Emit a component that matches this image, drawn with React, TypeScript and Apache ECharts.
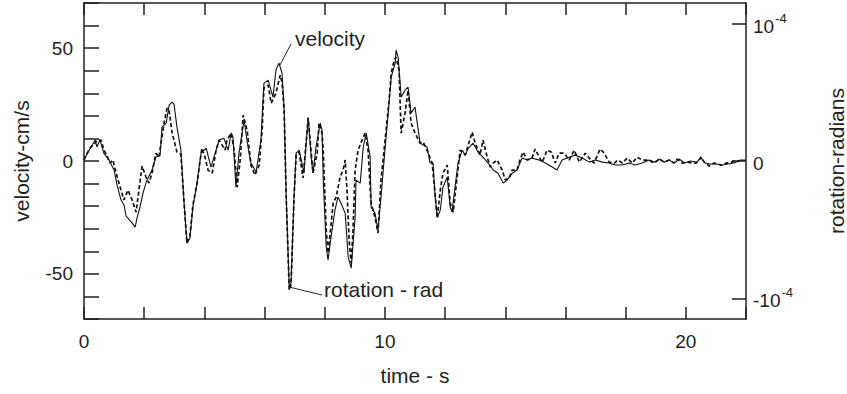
import React, { useEffect, useRef } from "react";
import * as echarts from "echarts";

// time axis (s) and velocity (cm/s) of the solid trace
const velocityTime = [
  0.0, 0.17, 0.37, 0.43, 0.53, 0.66, 0.83, 1.0, 1.1, 1.23, 1.33, 1.4, 1.46, 1.6, 1.7, 1.76, 1.86, 1.96, 2.09, 2.26,
  2.39, 2.53, 2.59, 2.73, 2.83, 2.93, 2.99, 3.09, 3.22, 3.32, 3.42, 3.52, 3.62, 3.76, 3.89, 4.06, 4.22, 4.39, 4.49,
  4.65, 4.79, 4.89, 4.95, 5.05, 5.15, 5.32, 5.45, 5.55, 5.72, 5.88, 5.98, 6.12, 6.28, 6.38, 6.48, 6.58, 6.65, 6.72,
  6.82, 6.88, 6.98, 7.05, 7.15, 7.31, 7.45, 7.55, 7.61, 7.71, 7.85, 7.91, 7.95, 8.05, 8.11, 8.21, 8.34, 8.44, 8.54,
  8.68, 8.78, 8.88, 9.01, 9.04, 9.18, 9.28, 9.38, 9.51, 9.54, 9.67, 9.77, 9.87, 10.01, 10.11, 10.21, 10.34, 10.37,
  10.44, 10.54, 10.67, 10.77, 10.87, 11.0, 11.17, 11.4, 11.5, 11.6, 11.67, 11.74, 11.84, 11.93, 12.07, 12.17, 12.23,
  12.33, 12.43, 12.57, 12.67, 12.77, 12.93, 13.1, 13.26, 13.43, 13.6, 13.76, 13.93, 14.06, 14.23, 14.39, 14.56,
  14.73, 14.89, 15.13, 15.33, 15.56, 15.72, 15.89, 16.12, 16.32, 16.56, 16.79, 16.99, 17.22, 17.45, 17.65, 17.89,
  18.12, 18.32, 18.55, 18.78, 18.95, 19.12, 19.28, 19.45, 19.61, 19.78, 19.95, 20.15, 20.35, 20.51, 20.64, 20.81,
  21.01, 21.21, 21.41, 21.61, 21.81, 21.97,
];
const velocityValues = [
  0.4, 4.8, 9.3, 6.2, 9.3, 3.5, 0.4, -4.0, -10.7, -17.3, -19.5, -24.4, -25.3, -27.5, -29.3, -25.3, -20.4, -14.2, -8.5,
  -4.0, 1.7, 2.6, 15.0, 16.8, 24.8, 26.1, 25.2, 15.0, 4.8, -17.3, -36.4, -34.2, -20.4, -9.3, 3.5, 5.7, -2.7, 4.8, 9.3,
  10.1, 4.8, 12.4, 10.6, -11.6, 3.5, 18.1, 6.2, -0.9, -4.9, 9.3, 34.5, 35.8, 28.3, 40.3, 43.4, 39.0, 23.9, -16.0,
  -55.8, -54.0, -16.0, 3.5, 4.8, -5.3, 19.4, 1.7, -5.3, 6.2, 16.8, 13.7, -8.5, -38.1, -43.8, -33.7, -21.8, -16.0,
  -18.7, -23.1, -42.6, -47.5, -24.9, -8.5, -9.8, 6.2, 12.4, 1.7, -20.4, -23.1, -30.6, -16.0, 6.2, 21.2, 37.2, 43.4,
  49.1, 46.0, 28.3, 31.4, 32.7, 21.2, 23.9, 7.9, 6.2, -0.9, -0.9, -16.0, -24.9, -21.8, -11.6, -7.1, -20.4, -22.6,
  -11.6, -0.9, 4.8, 2.6, 5.7, 7.9, 3.9, 1.7, -0.9, -4.0, -5.4, -9.8, -8.5, -5.4, -4.0, 1.3, 0.4, 1.3, 0.4, -0.9, -2.7,
  -4.0, 0.4, 1.7, 2.6, 1.3, -0.5, 0.4, -0.5, -0.9, -1.8, -1.8, -0.9, -1.8, -0.9, 0.4, -0.5, 0.9, -0.5, 0.4, -0.9, 0.9,
  -0.9, 0.0, -0.5, 1.3, -0.9, -1.3, -1.3, -1.8, -1.3, -0.9, 0.4, 0.4,
];

// time axis (s) and rotation (radians) of the dashed trace
const rotationTime = [
  0.0, 0.07, 0.2, 0.37, 0.43, 0.57, 0.66, 0.76, 0.86, 0.96, 1.06, 1.23, 1.33, 1.46, 1.6, 1.73, 1.93, 2.06, 2.16, 2.26,
  2.39, 2.49, 2.66, 2.76, 2.83, 2.93, 3.09, 3.22, 3.32, 3.42, 3.52, 3.62, 3.76, 3.86, 3.92, 4.02, 4.12, 4.26, 4.39,
  4.49, 4.59, 4.69, 4.75, 4.89, 4.99, 5.09, 5.19, 5.29, 5.42, 5.55, 5.68, 5.82, 5.92, 5.98, 6.12, 6.22, 6.38, 6.52,
  6.58, 6.65, 6.72, 6.82, 6.88, 6.98, 7.05, 7.15, 7.28, 7.45, 7.61, 7.75, 7.81, 7.91, 7.95, 8.05, 8.11, 8.21, 8.28,
  8.38, 8.51, 8.61, 8.68, 8.74, 8.81, 8.88, 8.94, 9.01, 9.11, 9.24, 9.34, 9.44, 9.54, 9.67, 9.77, 9.87, 10.04, 10.14,
  10.21, 10.31, 10.37, 10.47, 10.54, 10.67, 10.77, 10.87, 11.0, 11.17, 11.27, 11.4, 11.57, 11.67, 11.74, 11.84, 11.93,
  12.07, 12.17, 12.27, 12.37, 12.5, 12.67, 12.77, 12.9, 13.0, 13.16, 13.26, 13.4, 13.5, 13.6, 13.73, 13.9, 14.0,
  14.13, 14.23, 14.39, 14.49, 14.59, 14.73, 14.89, 14.99, 15.13, 15.23, 15.39, 15.53, 15.66, 15.79, 15.96, 16.12,
  16.29, 16.46, 16.66, 16.79, 16.95, 17.15, 17.29, 17.45, 17.62, 17.75, 17.89, 18.05, 18.22, 18.38, 18.55, 18.78,
  18.95, 19.12, 19.28, 19.45, 19.61, 19.71, 19.88, 20.05, 20.21, 20.35, 20.51, 20.61, 20.78, 20.94, 21.18, 21.34,
  21.51, 21.61, 21.78,
];
const rotationValues = [
  0.007e-4, 0.043e-4, 0.094e-4, 0.13e-4, 0.152e-4, 0.152e-4, 0.079e-4, 0.043e-4, -0.015e-4, 0.007e-4, -0.081e-4,
  -0.212e-4, -0.284e-4, -0.212e-4, -0.284e-4, -0.372e-4, -0.037e-4, -0.117e-4, -0.161e-4, -0.088e-4, 0.057e-4,
  0.028e-4, 0.276e-4, 0.385e-4, 0.363e-4, 0.203e-4, 0.065e-4, 0.05e-4, -0.284e-4, -0.597e-4, -0.546e-4, -0.32e-4,
  -0.161e-4, 0.007e-4, 0.094e-4, 0.028e-4, -0.066e-4, -0.088e-4, 0.079e-4, 0.152e-4, 0.116e-4, 0.079e-4, 0.152e-4,
  0.203e-4, 0.079e-4, -0.19e-4, 0.007e-4, 0.334e-4, 0.225e-4, -0.03e-4, -0.103e-4, -0.03e-4, 0.225e-4, 0.531e-4,
  0.552e-4, 0.421e-4, 0.494e-4, 0.625e-4, 0.574e-4, 0.37e-4, -0.263e-4, -0.94e-4, -0.903e-4, -0.263e-4, 0.043e-4,
  0.065e-4, -0.124e-4, 0.312e-4, -0.088e-4, 0.057e-4, 0.276e-4, 0.203e-4, 0.079e-4, -0.503e-4, -0.67e-4, -0.465e-4,
  -0.306e-4, -0.263e-4, -0.117e-4, -0.066e-4, 0.007e-4, -0.212e-4, -0.576e-4, -0.743e-4, -0.503e-4, -0.066e-4,
  0.079e-4, 0.152e-4, 0.203e-4, 0.079e-4, -0.306e-4, -0.408e-4, -0.524e-4, -0.139e-4, 0.225e-4, 0.443e-4, 0.64e-4,
  0.734e-4, 0.756e-4, 0.662e-4, 0.203e-4, 0.349e-4, 0.516e-4, 0.276e-4, 0.203e-4, 0.13e-4, 0.138e-4, 0.079e-4,
  -0.015e-4, -0.248e-4, -0.416e-4, -0.212e-4, -0.088e-4, -0.03e-4, -0.306e-4, -0.372e-4, -0.175e-4, 0.079e-4,
  0.043e-4, 0.116e-4, 0.21e-4, 0.13e-4, 0.043e-4, 0.152e-4, 0.028e-4, -0.044e-4, -0.015e-4, 0.007e-4, -0.066e-4,
  -0.139e-4, -0.124e-4, -0.066e-4, -0.066e-4, 0.007e-4, 0.065e-4, 0.007e-4, 0.021e-4, 0.087e-4, 0.028e-4, -0.008e-4,
  0.079e-4, 0.065e-4, -0.015e-4, 0.057e-4, 0.057e-4, 0.007e-4, 0.079e-4, -0.008e-4, 0.057e-4, 0.021e-4, -0.015e-4,
  0.087e-4, 0.057e-4, -0.008e-4, -0.015e-4, 0.007e-4, -0.015e-4, 0.021e-4, -0.015e-4, 0.028e-4, 0.007e-4, 0.007e-4,
  -0.015e-4, 0.014e-4, -0.008e-4, 0.007e-4, -0.015e-4, 0.014e-4, -0.015e-4, -0.008e-4, -0.015e-4, -0.015e-4,
  0.028e-4, -0.008e-4, -0.037e-4, -0.015e-4, -0.03e-4, -0.015e-4, -0.008e-4, -0.001e-4, -0.001e-4,
];

const timeLabels = [0, 10, 20];
const velocityLabels = [-50, 0, 50];
const rotationTicks = [-1e-4, 0, 1e-4];

const FONT = "'Liberation Sans', Arial, Helvetica, sans-serif";
const INK = "#231f20";

export default function App() {
  const ref = useRef<HTMLDivElement>(null);
  useEffect(() => {
    if (!ref.current) return;
    const chart = echarts.init(ref.current, undefined, { renderer: "svg" });
    const axisLine = { show: true, onZero: false, lineStyle: { color: INK, width: 1.5 } };
    const tickStyle = { color: INK, width: 1.5 };
    chart.setOption({
      animation: false,
      backgroundColor: "#ffffff",
      textStyle: { fontFamily: FONT },
      grid: { left: 84, right: 101, top: 3, bottom: 75, containLabel: false, outerBoundsMode: "none" },
      xAxis: [
        {
          type: "value",
          position: "bottom",
          min: 0,
          max: 22,
          interval: 2,
          splitLine: { show: false },
          axisLine,
          axisTick: { inside: true, length: 12, lineStyle: tickStyle },
          axisLabel: { customValues: timeLabels, margin: 13, fontSize: 19, color: INK, fontFamily: FONT },
          name: "time - s",
          nameLocation: "middle",
          nameGap: 46,
          nameTextStyle: { fontSize: 21, color: INK, fontFamily: FONT },
        },
        {
          type: "value",
          position: "top",
          min: 0,
          max: 22,
          interval: 2,
          splitLine: { show: false },
          axisLine,
          axisTick: { inside: true, length: 12, lineStyle: tickStyle },
          axisLabel: { show: false },
        },
      ],
      yAxis: [
        {
          type: "value",
          position: "left",
          min: -70,
          max: 70,
          interval: 10,
          splitLine: { show: false },
          axisLine,
          axisTick: { inside: true, length: 15, lineStyle: tickStyle },
          axisLabel: { customValues: velocityLabels, margin: 11, fontSize: 19, color: INK, fontFamily: FONT },
          name: "velocity-cm/s",
          nameLocation: "middle",
          nameRotate: 90,
          nameGap: 52,
          nameTextStyle: { fontSize: 21, color: INK, fontFamily: FONT },
        },
        {
          type: "value",
          position: "right",
          min: -1.15e-4,
          max: 1.15e-4,
          splitLine: { show: false },
          axisLine,
          axisTick: { inside: true, length: 14, customValues: rotationTicks, lineStyle: tickStyle },
          axisLabel: {
            customValues: rotationTicks,
            margin: 7,
            color: INK,
            fontFamily: FONT,
            formatter: (v: number) => (v === 0 ? "{b|0}" : v > 0 ? "{b|10}{s|-4}" : "{b|-10}{s|-4}"),
            rich: {
              b: { fontSize: 19, color: INK, fontFamily: FONT, lineHeight: 24, verticalAlign: "bottom" },
              s: { fontSize: 13, color: INK, fontFamily: FONT, lineHeight: 24, verticalAlign: "top", padding: [0, 0, 0, 1] },
            },
          },
          name: "rotation-radians",
          nameLocation: "middle",
          nameRotate: 90,
          nameGap: 80,
          nameTextStyle: { fontSize: 21, color: INK, fontFamily: FONT },
        },
      ],
      series: [
        {
          name: "velocity",
          type: "line",
          xAxisIndex: 0,
          yAxisIndex: 0,
          showSymbol: false,
          symbol: "none",
          lineStyle: { color: "#111", width: 1.1 },
          data: velocityTime.map((t, i) => [t, velocityValues[i]]),
          z: 3,
        },
        {
          name: "rotation",
          type: "line",
          xAxisIndex: 0,
          yAxisIndex: 1,
          showSymbol: false,
          symbol: "none",
          lineStyle: { color: "#111", width: 1.7, type: [4, 2.5] },
          data: rotationTime.map((t, i) => [t, rotationValues[i]]),
          z: 2,
        },
      ],
      graphic: [
        { type: "line", shape: { x1: 280, y1: 65, x2: 291, y2: 44 }, style: { stroke: INK, lineWidth: 1 } },
        {
          type: "text",
          x: 295,
          y: 38,
          style: { text: "velocity", font: `21px ${FONT}`, fill: INK, textVerticalAlign: "middle", verticalAlign: "middle" },
        },
        { type: "line", shape: { x1: 289, y1: 287, x2: 322, y2: 295 }, style: { stroke: INK, lineWidth: 1 } },
        {
          type: "text",
          x: 324,
          y: 289,
          style: { text: "rotation - rad", font: `21px ${FONT}`, fill: INK, textVerticalAlign: "middle", verticalAlign: "middle" },
        },
      ],
    });
    return () => chart.dispose();
  }, []);
  return (
    <div
      ref={ref}
      style={{ position: "absolute", left: 0, top: 0, width: 847, height: 394, background: "#fff" }}
    />
  );
}
